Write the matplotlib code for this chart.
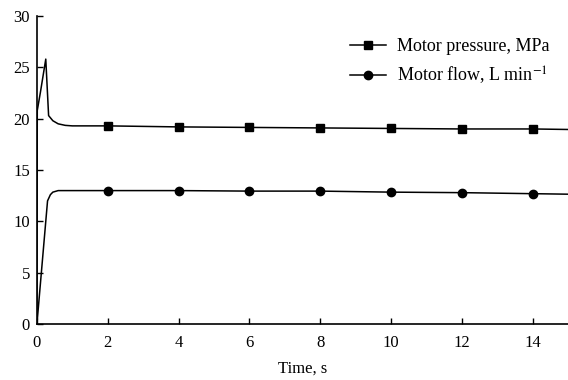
import numpy as np
import matplotlib
matplotlib.use("Agg")
import matplotlib.pyplot as plt

plt.rcParams['font.family'] = ['Liberation Serif', 'DejaVu Serif']
plt.rcParams['mathtext.fontset'] = 'stix'

# motor pressure, MPa
t_pressure = [0, 0.01, 0.1, 0.25, 0.33, 0.45, 0.6, 0.8, 1.0, 2, 4, 6, 8, 10, 12, 14, 15]
pressure = [0, 20.8, 22.6, 25.8, 20.3, 19.8, 19.5, 19.35, 19.3, 19.3, 19.2, 19.15, 19.1, 19.05, 19.0, 19.0, 18.95]

# motor flow, L/min
t_flow = [0, 0.1, 0.2, 0.3, 0.38, 0.45, 0.6, 0.8, 1.0, 2, 4, 6, 8, 10, 12, 14, 15]
flow = [0, 4.0, 8.0, 12.0, 12.6, 12.85, 13.0, 13.0, 13.0, 13.0, 13.0, 12.95, 12.95, 12.85, 12.8, 12.7, 12.65]

marker_t = [2, 4, 6, 8, 10, 12, 14]

fig = plt.figure(figsize=(5.68, 3.8), dpi=100)
ax = fig.add_axes([0.065, 0.147, 0.935, 0.811])

p_marks = np.interp(marker_t, t_pressure, pressure)
f_marks = np.interp(marker_t, t_flow, flow)

ax.plot(t_pressure, pressure, color='black', lw=1.1)
ax.plot(marker_t, p_marks, 's', color='black', ms=6)
ax.plot(t_flow, flow, color='black', lw=1.1)
ax.plot(marker_t, f_marks, 'o', color='black', ms=6)

# legend proxies
ax.plot([], [], '-s', color='black', ms=6, lw=1.1, label='Motor pressure, MPa')
ax.plot([], [], '-o', color='black', ms=6, lw=1.1, label='Motor flow, L min$^{-1}$')
ax.legend(loc='upper right', bbox_to_anchor=(0.995, 0.98), frameon=False,
          fontsize=13, labelspacing=0.5, handlelength=2.0, handletextpad=0.6)

ax.set_xlim(0, 15)
ax.set_ylim(0, 30)
ax.set_xticks([0, 2, 4, 6, 8, 10, 12, 14])
ax.set_yticks([0, 5, 10, 15, 20, 25, 30])
ax.tick_params(direction='in', labelsize=12, length=4, width=1)
ax.tick_params(axis='x', pad=8)
ax.tick_params(axis='y', pad=5)
ax.spines['top'].set_visible(False)
ax.spines['right'].set_visible(False)
ax.spines['left'].set_linewidth(1.2)
ax.spines['bottom'].set_linewidth(1.2)
ax.set_xlabel('Time, s', fontsize=12, labelpad=7)

fig.savefig('out.png', dpi=100)
